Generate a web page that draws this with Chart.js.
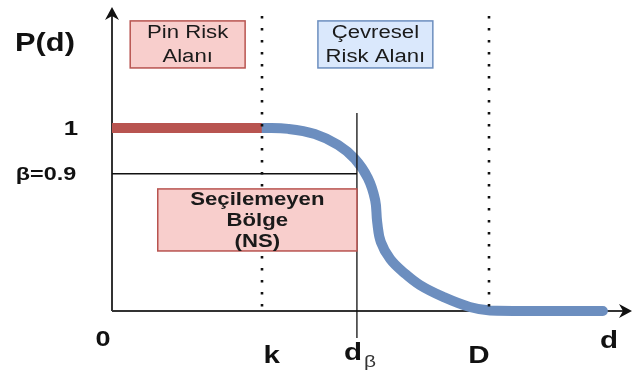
<!DOCTYPE html>
<html>
<head>
<meta charset="utf-8">
<script src="https://cdn.jsdelivr.net/npm/chart.js@4/dist/chart.umd.min.js"></script>
<style>
  html, body { margin: 0; padding: 0; background: #fff; }
  #wrap { width: 633px; height: 376px; }
</style>
</head>
<body>
<div id="wrap"><canvas id="chart" width="633" height="376"></canvas></div>
<script>
// pin risk part: P(d) = 1 up to k
const pinX = [0, 2.88];
const pinY = [1, 1];

// environmental risk part: falls from 1 to 0 after k
const curveX = [2.88, 3.39, 3.90, 4.35, 4.67, 4.92, 5.06, 5.10, 5.17, 5.35, 5.62, 5.92, 6.37, 6.88, 7.27, 8.04, 9.44];
const curveY = [1, 0.995, 0.967, 0.907, 0.831, 0.727, 0.607, 0.486, 0.377, 0.284, 0.208, 0.142, 0.077, 0.022, 0.003, 0, 0];

// x markers
const markerNames = ['k', 'd', 'D'];
const markerX = [2.88, 4.71, 7.25];

// y tick labels
const yTickLabels = ['1', 'β=0.9'];
const yTickValues = [1, 0.75];
const betaValue = 0.75;

const xMax = 10;
const yMax = 1.661;

const FONT = '"Liberation Sans", Arial, sans-serif';
const STRETCH = 1.23;

const boxes = [
  { lines: ['Pin Risk', 'Alanı'], x1: 0.35, x2: 2.56, y1: 1.585, y2: 1.328, fill: '#f8cecc', stroke: '#b85450', bold: false, lh: 24 },
  { lines: ['Çevresel', 'Risk Alanı'], x1: 3.96, x2: 6.17, y1: 1.585, y2: 1.328, fill: '#dae8fc', stroke: '#6c8ebf', bold: false, lh: 24 },
  { lines: ['Seçilemeyen', 'Bölge', '(NS)'], x1: 0.88, x2: 4.71, y1: 0.667, y2: 0.328, fill: '#f8cecc', stroke: '#b85450', bold: true, lh: 21 },
];

function text(ctx, str, x, y, size, bold, align, color) {
  ctx.save();
  ctx.font = (bold ? 'bold ' : '') + size + 'px ' + FONT;
  ctx.fillStyle = color || '#111';
  ctx.textAlign = align || 'center';
  ctx.textBaseline = 'middle';
  ctx.translate(x, y);
  ctx.scale(STRETCH, 1);
  ctx.fillText(str, 0, 0);
  ctx.restore();
}

const axesPlugin = {
  id: 'axesPlugin',
  beforeDatasetsDraw(chart) {
    const { ctx, scales: { x, y } } = chart;
    const x0 = x.getPixelForValue(0), y0 = y.getPixelForValue(0);
    const xEnd = x.getPixelForValue(xMax), yTop = y.getPixelForValue(yMax);
    ctx.save();
    ctx.strokeStyle = '#333';
    ctx.lineWidth = 2;
    ctx.beginPath();
    ctx.moveTo(x0, y0);
    ctx.lineTo(x0, yTop + 4);
    ctx.moveTo(x0, y0);
    ctx.lineTo(xEnd - 4, y0);
    ctx.stroke();
    ctx.fillStyle = '#111';
    // arrow heads
    ctx.beginPath();
    ctx.moveTo(x0, yTop);
    ctx.lineTo(x0 + 7, yTop + 13);
    ctx.lineTo(x0, yTop + 9);
    ctx.lineTo(x0 - 7, yTop + 13);
    ctx.closePath();
    ctx.fill();
    ctx.beginPath();
    ctx.moveTo(xEnd, y0);
    ctx.lineTo(xEnd - 13, y0 - 7);
    ctx.lineTo(xEnd - 9, y0);
    ctx.lineTo(xEnd - 13, y0 + 7);
    ctx.closePath();
    ctx.fill();
    ctx.restore();
  },
  afterDatasetsDraw(chart) {
    const { ctx, scales: { x, y } } = chart;
    const x0 = x.getPixelForValue(0), y0 = y.getPixelForValue(0);
    const xb = x.getPixelForValue(markerX[1]);
    ctx.save();
    // beta line and d_beta line
    ctx.strokeStyle = '#111';
    ctx.lineWidth = 1.3;
    ctx.beginPath();
    ctx.moveTo(x0, y.getPixelForValue(betaValue));
    ctx.lineTo(xb, y.getPixelForValue(betaValue));
    ctx.moveTo(xb, y.getPixelForValue(1.082));
    ctx.lineTo(xb, y.getPixelForValue(-0.148));
    ctx.stroke();
    // dotted lines at k and D
    ctx.lineWidth = 2.6;
    ctx.setLineDash([2.6, 9.4]);
    [markerX[0], markerX[2]].forEach(v => {
      const px = Math.round(x.getPixelForValue(v));
      ctx.beginPath();
      ctx.moveTo(px, y.getPixelForValue(1.612));
      ctx.lineTo(px, y0 + 1);
      ctx.stroke();
    });
    ctx.setLineDash([]);
    // boxes
    boxes.forEach(b => {
      const l = x.getPixelForValue(b.x1), r = x.getPixelForValue(b.x2);
      const t = y.getPixelForValue(b.y1), btm = y.getPixelForValue(b.y2);
      ctx.fillStyle = b.fill;
      ctx.fillRect(l, t, r - l, btm - t);
      ctx.strokeStyle = b.stroke;
      ctx.lineWidth = 1.5;
      ctx.strokeRect(l, t, r - l, btm - t);
      const cx = (l + r) / 2, cy = (t + btm) / 2;
      const n = b.lines.length;
      b.lines.forEach((s, i) => {
        text(ctx, s, cx, cy + (i - (n - 1) / 2) * b.lh + 1, 18, b.bold, 'center', '#1a1a1a');
      });
    });
    // labels
    text(ctx, 'P(d)', 45, 44, 25, true, 'center');
    text(ctx, yTickLabels[0], x0 - 41, y.getPixelForValue(yTickValues[0]) + 1, 21, true, 'center');
    text(ctx, yTickLabels[1], x0 - 66, y.getPixelForValue(yTickValues[1]) + 1, 19, true, 'center');
    text(ctx, '0', x0 - 9, y0 + 29, 22, true, 'center');
    text(ctx, markerNames[0], x.getPixelForValue(markerX[0]) + 10, y0 + 45, 24, true, 'center');
    text(ctx, markerNames[1], xb - 4, y0 + 42, 24, true, 'center');
    text(ctx, 'β', xb + 13, y0 + 51, 17, false, 'center', '#333');
    text(ctx, markerNames[2], x.getPixelForValue(markerX[2]) - 10, y0 + 45, 24, true, 'center');
    text(ctx, 'd', x.getPixelForValue(xMax) - 23, y0 + 30, 24, true, 'center');
    ctx.restore();
  }
};

const toPoints = (xs, ys) => xs.map((v, i) => ({ x: v, y: ys[i] }));

new Chart(document.getElementById('chart'), {
  type: 'line',
  data: {
    datasets: [
      {
        label: 'Pin Risk',
        data: toPoints(pinX, pinY),
        borderColor: '#b85450',
        borderWidth: 10,
        borderCapStyle: 'butt',
        pointRadius: 0,
        clip: false,
      },
      {
        label: 'Çevresel Risk',
        data: toPoints(curveX, curveY),
        borderColor: '#6c8ebf',
        borderWidth: 10,
        borderCapStyle: 'round',
        borderJoinStyle: 'round',
        tension: 0.4,
        pointRadius: 0,
        clip: false,
      },
    ],
  },
  options: {
    responsive: false,
    animation: false,
    layout: { padding: { left: 112, right: 1, top: 7, bottom: 65 } },
    plugins: { legend: { display: false }, tooltip: { enabled: false } },
    scales: {
      x: { type: 'linear', min: 0, max: xMax, display: false },
      y: { type: 'linear', min: 0, max: yMax, display: false },
    },
  },
  plugins: [axesPlugin],
});
</script>
</body>
</html>
